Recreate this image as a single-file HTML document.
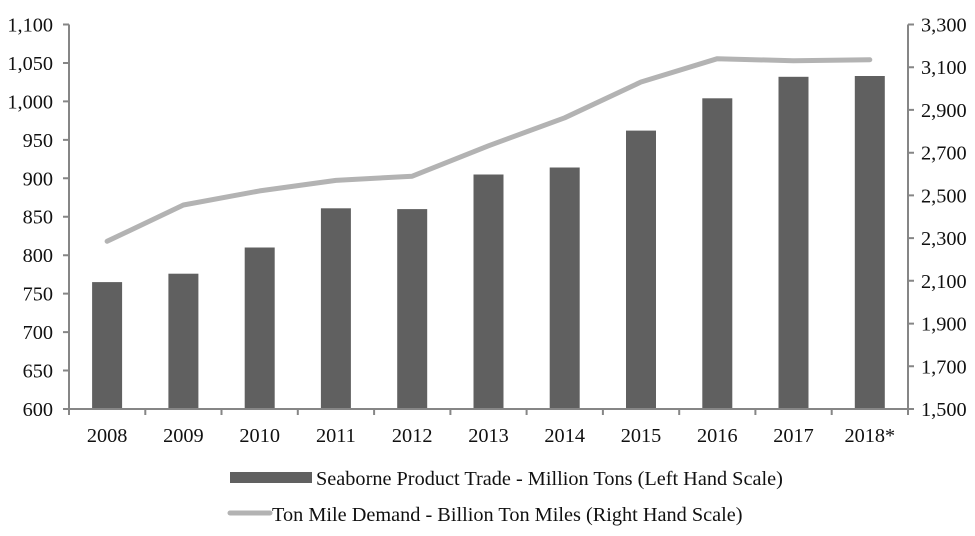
<!DOCTYPE html>
<html><head><style>body{margin:0;background:#fff}svg text{font-family:"Liberation Serif",serif;font-size:20.3px;fill:#111}</style></head><body>
<svg width="975" height="531" xmlns="http://www.w3.org/2000/svg">
<g fill="#606060">
<rect x="92.1" y="282.1" width="30" height="126.9"/>
<rect x="168.4" y="273.7" width="30" height="135.3"/>
<rect x="244.7" y="247.5" width="30" height="161.5"/>
<rect x="320.9" y="208.3" width="30" height="200.7"/>
<rect x="397.2" y="209.1" width="30" height="199.9"/>
<rect x="473.5" y="174.5" width="30" height="234.5"/>
<rect x="549.7" y="167.5" width="30" height="241.5"/>
<rect x="626" y="130.6" width="30" height="278.4"/>
<rect x="702.3" y="98.3" width="30" height="310.7"/>
<rect x="778.5" y="76.8" width="30" height="332.2"/>
<rect x="854.8" y="76" width="30" height="333"/>
</g>
<polyline fill="none" stroke="#b3b3b3" stroke-width="5" stroke-linecap="round" stroke-linejoin="round" points="107.1,241.3 183.4,205 259.7,190.9 335.9,180.4 412.2,176.2 488.5,145.8 564.7,117.8 641,82 717.3,58.7 793.5,60.8 869.8,59.8"/>
<g stroke="#868686" stroke-width="2" fill="none">
<path d="M69 24.5V409H908V24.5"/>
<path d="M63 409H69M63 370.55H69M63 332.1H69M63 293.65H69M63 255.2H69M63 216.75H69M63 178.3H69M63 139.85H69M63 101.4H69M63 62.95H69M63 24.5H69"/>
<path d="M908 409H914M908 366.3H914M908 323.6H914M908 280.8H914M908 238.1H914M908 195.4H914M908 152.7H914M908 109.9H914M908 67.2H914M908 24.5H914"/>
<path d="M69 409V415M145.3 409V415M221.5 409V415M297.8 409V415M374.1 409V415M450.4 409V415M526.6 409V415M602.9 409V415M679.2 409V415M755.4 409V415M831.7 409V415M908 409V415"/>
</g>
<g text-anchor="end">
<text x="53" y="416">600</text><text x="53" y="377.5">650</text><text x="53" y="339">700</text><text x="53" y="300.6">750</text><text x="53" y="262.2">800</text><text x="53" y="223.7">850</text><text x="53" y="185.3">900</text><text x="53" y="146.8">950</text><text x="53" y="108.4">1,000</text><text x="53" y="70">1,050</text><text x="53" y="31.5">1,100</text>
</g>
<g>
<text x="921" y="416">1,500</text><text x="921" y="373.3">1,700</text><text x="921" y="330.6">1,900</text><text x="921" y="287.8">2,100</text><text x="921" y="245.1">2,300</text><text x="921" y="202.4">2,500</text><text x="921" y="159.7">2,700</text><text x="921" y="116.9">2,900</text><text x="921" y="74.2">3,100</text><text x="921" y="31.5">3,300</text>
</g>
<g text-anchor="middle">
<text x="107.1" y="442">2008</text><text x="183.4" y="442">2009</text><text x="259.7" y="442">2010</text><text x="335.9" y="442">2011</text><text x="412.2" y="442">2012</text><text x="488.5" y="442">2013</text><text x="564.7" y="442">2014</text><text x="641" y="442">2015</text><text x="717.3" y="442">2016</text><text x="793.5" y="442">2017</text><text x="869.8" y="442">2018*</text>
</g>
<rect x="230" y="472" width="82" height="11" fill="#606060"/><text x="316" y="485">Seaborne Product Trade - Million Tons (Left Hand Scale)</text>
<line x1="230" x2="270" y1="513" y2="513" stroke="#b3b3b3" stroke-width="5" stroke-linecap="round"/><text x="272" y="521">Ton Mile Demand - Billion Ton Miles (Right Hand Scale)</text>
</svg></body></html>
